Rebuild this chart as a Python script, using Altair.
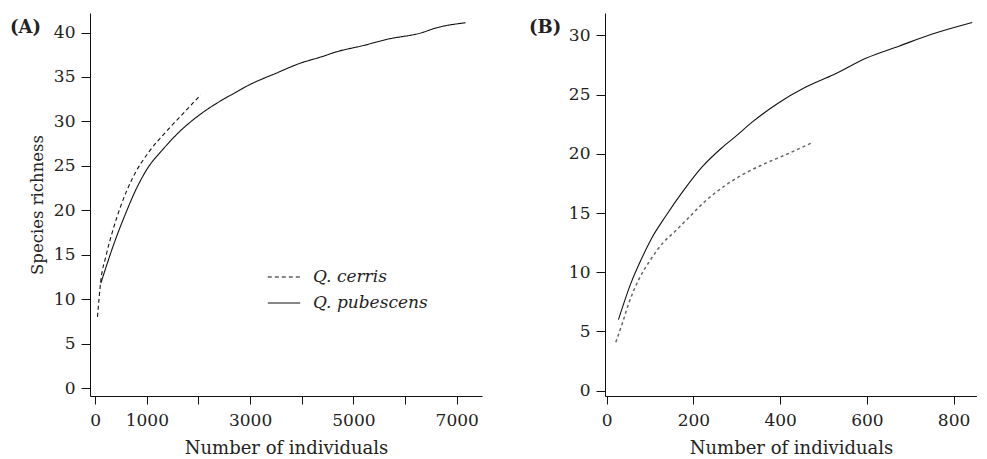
import altair as alt
import pandas as pd

# Panel A data (Number of individuals, Species richness)
a_cerris_x = [45, 110, 207, 335, 497, 722, 1044, 1367, 1754, 2044]
a_cerris_y = [8.0, 12.1, 14.8, 17.6, 20.5, 23.6, 26.6, 28.8, 31.2, 33.0]
a_pub_x = [110, 368, 594, 787, 1012, 1302, 1625, 2012, 2398, 2700, 2979, 3495, 3946, 4397, 4655, 5235, 5622, 6332, 6590, 7170]
a_pub_y = [11.8, 16.3, 19.7, 22.3, 24.7, 26.8, 28.8, 30.7, 32.2, 33.2, 34.1, 35.4, 36.5, 37.3, 37.8, 38.6, 39.2, 40.0, 40.5, 41.1]

# Panel B data
b_cerris_x = [21, 36, 51, 74, 100, 130, 156, 186, 224, 276, 321, 366, 411, 471]
b_cerris_y = [4.1, 5.7, 7.4, 9.4, 11.0, 12.5, 13.4, 14.5, 15.9, 17.4, 18.4, 19.2, 19.9, 20.9]
b_pub_x = [27, 55, 81, 104, 137, 179, 220, 265, 298, 336, 396, 457, 524, 599, 674, 749, 843]
b_pub_y = [6.0, 9.0, 11.2, 12.9, 14.8, 17.0, 18.9, 20.5, 21.5, 22.7, 24.3, 25.6, 26.7, 28.1, 29.1, 30.1, 31.1]

species = ["Q. cerris", "Q. pubescens"]
a_xticks = [0, 1000, 2000, 3000, 4000, 5000, 6000, 7000]
a_yticks = [0, 5, 10, 15, 20, 25, 30, 35, 40]
b_xticks = [0, 200, 400, 600, 800]
b_yticks = [0, 5, 10, 15, 20, 25, 30]

FONT = "DejaVu Serif"

dfA = pd.concat([
    pd.DataFrame({"n": a_cerris_x, "s": a_cerris_y, "species": species[0], "o": range(len(a_cerris_x))}),
    pd.DataFrame({"n": a_pub_x, "s": a_pub_y, "species": species[1], "o": range(len(a_pub_x))}),
])
dfBc = pd.DataFrame({"n": b_cerris_x, "s": b_cerris_y, "o": range(len(b_cerris_x))})
dfBp = pd.DataFrame({"n": b_pub_x, "s": b_pub_y, "o": range(len(b_pub_x))})

axis_common = dict(
    domainColor="#111", tickColor="#111", domainWidth=1, tickWidth=1,
    labelFont=FONT, labelFontSize=17, labelColor="#222",
    titleFont=FONT, titleFontWeight="normal", titleColor="#222",
    grid=False,
)

xA = alt.X("n:Q", scale=alt.Scale(domain=[-100, 7490], nice=False, zero=False),
           axis=alt.Axis(title="Number of individuals", values=a_xticks, format="d",
                         labelExpr="(datum.value==2000||datum.value==4000||datum.value==6000)?'':datum.label",
                         tickSize=8, labelPadding=8, titlePadding=11, titleFontSize=18,
                         labelFlush=False, **axis_common))
yA = alt.Y("s:Q", scale=alt.Scale(domain=[-0.9, 42.2], nice=False, zero=False),
           axis=alt.Axis(title="Species richness", values=a_yticks, tickSize=9, labelPadding=6,
                         titlePadding=8, titleFontSize=16.5, labelFlush=False, **axis_common))

linesA = alt.Chart(dfA).mark_line(color="#111", strokeWidth=1.1, interpolate="monotone").encode(
    x=xA, y=yA, order="o:Q",
    strokeDash=alt.StrokeDash("species:N",
        scale=alt.Scale(domain=species, range=[[4, 3], [1, 0]]),
        legend=alt.Legend(title=None, orient="none", legendX=177, legendY=254,
                          symbolType="stroke", symbolSize=1050, symbolStrokeColor="#111",
                          symbolStrokeWidth=1.1, labelFont=FONT, labelFontSize=17,
                          labelFontStyle="italic", labelColor="#222", labelOffset=12,
                          clipHeight=20, rowPadding=6)),
)
labA = alt.Chart(pd.DataFrame({"t": ["(A)"]})).mark_text(
    font=FONT, fontSize=18, fontWeight="bold", align="left", baseline="middle", color="#222"
).encode(text="t:N", x=alt.value(-80), y=alt.value(15))

panelA = alt.layer(linesA, labA).properties(width=392, height=383)

xB = alt.X("n:Q", scale=alt.Scale(domain=[-4, 854], nice=False, zero=False),
           axis=alt.Axis(title="Number of individuals", values=b_xticks, format="d",
                         tickSize=8, labelPadding=8, titlePadding=11, titleFontSize=18,
                         labelFlush=False, **axis_common))
yB = alt.Y("s:Q", scale=alt.Scale(domain=[-0.45, 31.9], nice=False, zero=False),
           axis=alt.Axis(title=None, values=b_yticks, tickSize=9, labelPadding=6,
                         labelFlush=False, **axis_common))

pubB = alt.Chart(dfBp).mark_line(color="#111", strokeWidth=1.1, interpolate="monotone").encode(
    x=xB, y=yB, order="o:Q")
cerB = alt.Chart(dfBc).mark_line(color="#666", strokeWidth=1.5, strokeDash=[3, 3],
                                 interpolate="monotone").encode(x=xB, y=yB, order="o:Q")
labB = alt.Chart(pd.DataFrame({"t": ["(B)"]})).mark_text(
    font=FONT, fontSize=18, fontWeight="bold", align="left", baseline="middle", color="#222"
).encode(text="t:N", x=alt.value(-76), y=alt.value(15))

panelB = alt.layer(pubB, cerB, labB).properties(width=372, height=383)

chart = alt.hconcat(panelA, panelB, spacing=47).properties(
    padding={"left": 2, "top": 5, "right": 0, "bottom": 0}
).configure_view(stroke=None).configure_concat(spacing=47)

chart.save("out.html", embed_options={"renderer": "svg", "actions": False})
